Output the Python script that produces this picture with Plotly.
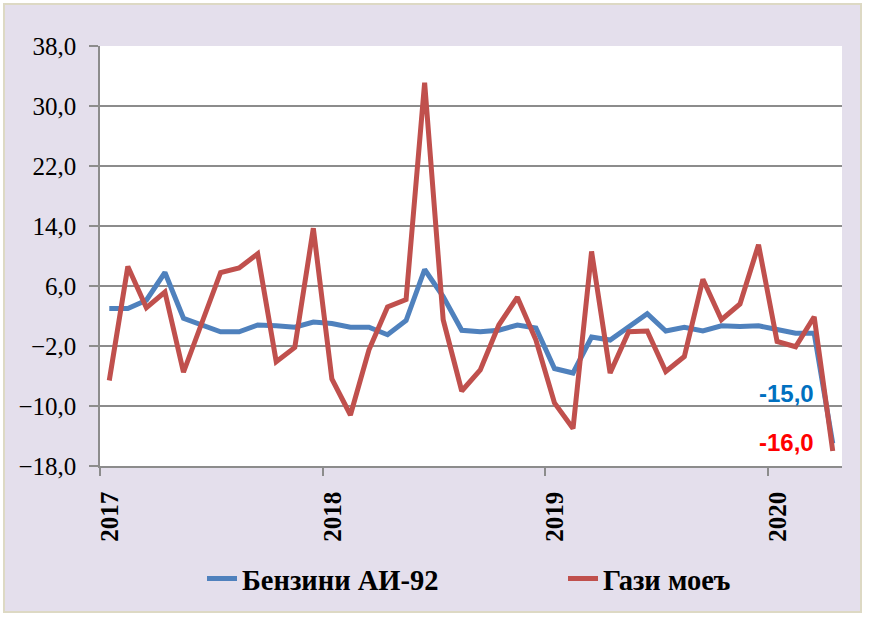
import plotly.graph_objects as go

# ---- data ----
years = ["2017", "2018", "2019", "2020"]
series_names = ["Бензини АИ-92", "Гази моеъ"]
benzini = [3.0, 3.0, 4.1, 7.8, 1.7, 0.8, -0.1, -0.1, 0.8, 0.7,
           0.5, 1.2, 1.0, 0.5, 0.5, -0.5, 1.4, 8.2, 4.6, 0.1,
           -0.1, 0.1, 0.8, 0.4, -5.0, -5.6, -0.8, -1.2, 0.5, 2.3,
           0.0, 0.5, 0.0, 0.7, 0.6, 0.7, 0.2, -0.3, -0.3, -15.0]
gazi = [-6.6, 8.6, 3.1, 5.2, -5.5, 1.2, 7.8, 8.4, 10.3, -4.1,
        -2.2, 13.7, -6.4, -11.2, -2.5, 3.2, 4.2, 33.1, 1.5, -8.0,
        -5.2, 0.8, 4.5, -1.2, -9.6, -13.0, 10.6, -5.6, -0.1, 0.0,
        -5.4, -3.4, 6.9, 1.5, 3.6, 11.5, -1.4, -2.1, 1.9, -16.0]

n = len(benzini)
x = [i + 0.5 for i in range(n)]          # month centres
year_ticks = [12 * k for k in range(len(years))]

BLUE = "#4F81BD"
RED = "#C0504D"
GRID = "#8C8C8C"
SERIF = "'Liberation Serif', 'Times New Roman', Tinos, 'DejaVu Serif', serif"
SANS = "'Liberation Sans', Arial, sans-serif"

fig = go.Figure()
fig.add_trace(go.Scatter(x=x, y=benzini, mode="lines", name=series_names[0],
                         line=dict(color=BLUE, width=5), legend="legend"))
fig.add_trace(go.Scatter(x=x, y=gazi, mode="lines", name=series_names[1],
                         line=dict(color=RED, width=5), legend="legend2"))

def fmt(v):
    return f"{v:.1f}".replace(".", ",")

fig.add_annotation(x=x[-1], y=benzini[-1], text=fmt(benzini[-1]), showarrow=False,
                   xanchor="right", yanchor="middle", xshift=-17, yshift=50,
                   font=dict(family=SANS, size=24, color="#0070C0", weight="bold"))
fig.add_annotation(x=x[-1], y=gazi[-1], text=fmt(gazi[-1]), showarrow=False,
                   xanchor="right", yanchor="middle", xshift=-17, yshift=9,
                   font=dict(family=SANS, size=24, color="#FF0000", weight="bold"))

# background frame
fig.add_shape(type="rect", xref="paper", yref="paper",
              x0=-0.1294, x1=1.0256, y0=-0.3476, y1=1.1,
              fillcolor="#E4DFEC", line=dict(color="#DDD9C4", width=2), layer="below")
fig.add_shape(type="rect", xref="paper", yref="paper",
              x0=0, x1=1, y0=0, y1=1,
              fillcolor="white", line=dict(width=0), layer="below")

legend_font = dict(family=SERIF, size=28.5, color="black", weight="bold")
fig.update_layout(
    width=872, height=620,
    margin=dict(l=100, r=30, t=46, b=154),
    paper_bgcolor="white",
    plot_bgcolor="rgba(0,0,0,0)",
    separators=", ",
    showlegend=True,
    legend=dict(orientation="h", x=(202 - 100) / 742, xanchor="left",
                y=-0.269, yanchor="middle", bgcolor="rgba(0,0,0,0)", font=legend_font),
    legend2=dict(orientation="h", x=(563 - 100) / 742, xanchor="left",
                 y=-0.269, yanchor="middle", bgcolor="rgba(0,0,0,0)", font=legend_font),
)

fig.update_xaxes(range=[0, n], tickmode="array", tickvals=year_ticks, ticktext=years,
                 ticks="outside", ticklen=8, tickcolor=GRID, tickwidth=1.5,
                 tickangle=-90, ticklabelshift=10, ticklabelstandoff=6,
                 tickfont=dict(family=SERIF, size=25, color="black", weight="bold"),
                 showgrid=False, zeroline=False, showline=True, linecolor=GRID, linewidth=1.5)
fig.update_yaxes(range=[-18, 38], tick0=-18, dtick=8, tickformat=".1f",
                 ticks="outside", ticklen=9, tickcolor=GRID, tickwidth=1.5,
                 ticklabelstandoff=8,
                 tickfont=dict(family=SERIF, size=25, color="black"),
                 showgrid=True, gridcolor=GRID, gridwidth=1.5,
                 zeroline=False, showline=True, linecolor=GRID, linewidth=1.5)

fig.write_html("out.html", config={"displayModeBar": False},
               post_script="document.body.style.margin='0';")
